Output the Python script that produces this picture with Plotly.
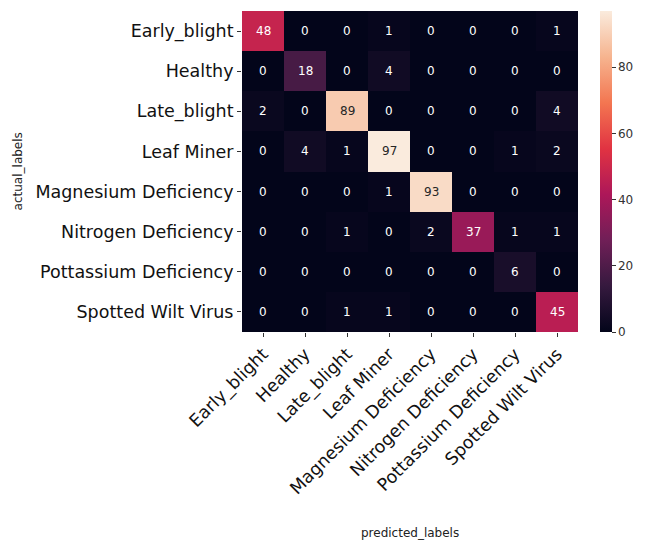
import plotly.graph_objects as go

labels = ["Early_blight", "Healthy", "Late_blight", "Leaf Miner",
          "Magnesium Deficiency", "Nitrogen Deficiency",
          "Pottassium Deficiency", "Spotted Wilt Virus"]

matrix = [
    [48, 0, 0, 1, 0, 0, 0, 1],
    [0, 18, 0, 4, 0, 0, 0, 0],
    [2, 0, 89, 0, 0, 0, 0, 4],
    [0, 4, 1, 97, 0, 0, 1, 2],
    [0, 0, 0, 1, 93, 0, 0, 0],
    [0, 0, 1, 0, 2, 37, 1, 1],
    [0, 0, 0, 0, 0, 0, 6, 0],
    [0, 0, 1, 1, 0, 0, 0, 45],
]

colorbar_ticks = [0, 20, 40, 60, 80]

rocket = [
    [0.0, "#03051a"],
    [1/7, "#35193e"],
    [2/7, "#701f57"],
    [3/7, "#ad1759"],
    [4/7, "#e13342"],
    [5/7, "#f37651"],
    [6/7, "#f6b48f"],
    [1.0, "#faebdd"],
]

vmax = max(max(r) for r in matrix)
vmin = min(min(r) for r in matrix)

fig = go.Figure(go.Heatmap(
    z=matrix, x=labels, y=labels,
    colorscale=rocket, zmin=vmin, zmax=vmax,
    xgap=0, ygap=0,
    colorbar=dict(
        thickness=12, len=1.0, y=0.5, yanchor="middle",
        x=1.065, xanchor="left", xpad=0, ypad=0,
        outlinewidth=0,
        tickvals=colorbar_ticks, ticks="outside", ticklen=4,
        tickcolor="#333", tickfont=dict(family="DejaVu Sans", size=12, color="#333"),
    ),
))

annotations = []
for i, row in enumerate(matrix):
    for j, v in enumerate(row):
        frac = (v - vmin) / (vmax - vmin)
        color = "#262626" if frac > 0.75 else "white"
        annotations.append(dict(
            x=labels[j], y=labels[i], text=str(v), showarrow=False,
            font=dict(family="DejaVu Sans", size=12, color=color),
        ))

annotations.append(dict(
    x=-0.667, y=0.5, xref="paper", yref="paper", text="actual_labels",
    textangle=-90, showarrow=False, xanchor="center", yanchor="middle",
    font=dict(family="DejaVu Sans", size=12, color="#222"),
))
annotations.append(dict(
    x=0.5, y=-0.626, xref="paper", yref="paper", text="predicted_labels",
    showarrow=False, xanchor="center", yanchor="middle",
    font=dict(family="DejaVu Sans", size=12, color="#222"),
))

fig.update_layout(
    width=643, height=535,
    margin=dict(l=234, r=73, t=3, b=211, autoexpand=False),
    paper_bgcolor="white", plot_bgcolor="white",
    annotations=annotations,
    xaxis=dict(tickangle=-45, ticks="outside", ticklen=4, tickcolor="#333",
               automargin=False,
               tickfont=dict(family="DejaVu Sans", size=17.5, color="#111"),
               showgrid=False, zeroline=False),
    yaxis=dict(autorange="reversed", ticks="outside", ticklen=4, tickcolor="#333",
               automargin=False,
               tickfont=dict(family="DejaVu Sans", size=17.5, color="#111"),
               showgrid=False, zeroline=False),
)

fig.write_html("out.html")
